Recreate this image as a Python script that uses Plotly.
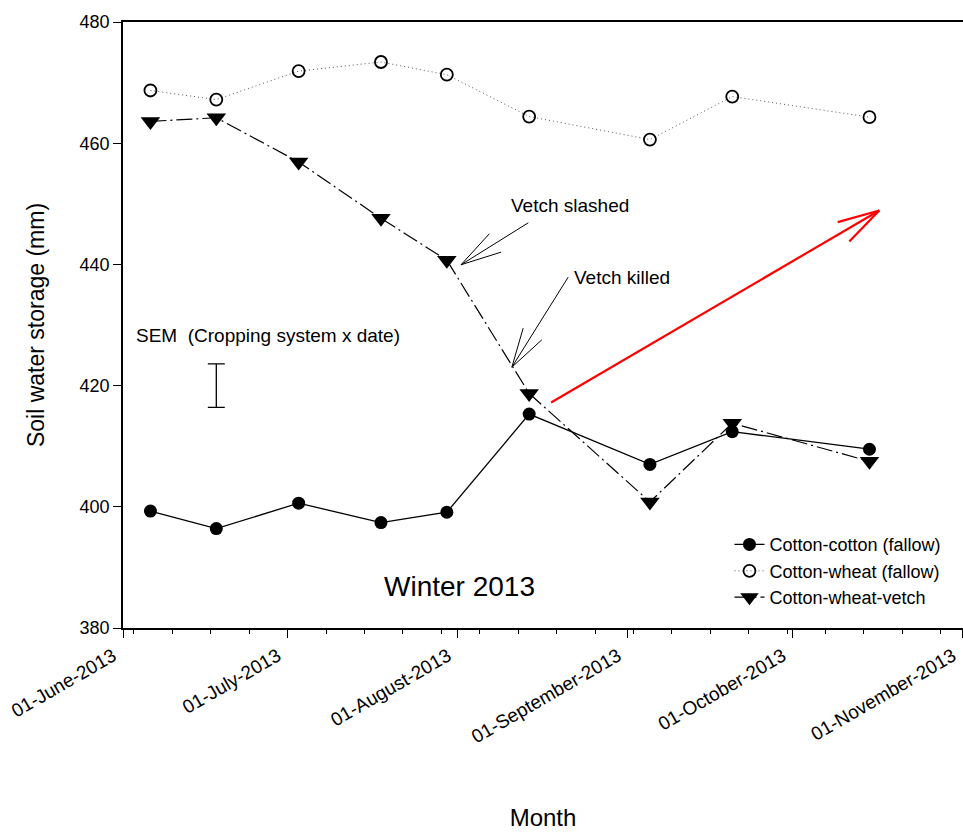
import plotly.graph_objects as go

# ---- data ----
dates = ["2013-06-06", "2013-06-18", "2013-07-03", "2013-07-18", "2013-07-30",
         "2013-08-14", "2013-09-05", "2013-09-20", "2013-10-15"]
cotton_cotton = [399.3, 396.4, 400.6, 397.4, 399.1, 415.3, 407.0, 412.4, 409.5]
cotton_wheat = [468.7, 467.2, 471.9, 473.4, 471.3, 464.4, 460.6, 467.7, 464.3]
cotton_wheat_vetch = [463.6, 464.2, 456.9, 447.6, 440.7, 418.7, 400.8, 413.8, 407.5]

series_names = ["Cotton-cotton (fallow)", "Cotton-wheat (fallow)", "Cotton-wheat-vetch"]

sem_date = ["2013-06-18"]
sem_center = [420.0]
sem_value = [3.6]

month_ticks = ["2013-06-01", "2013-07-01", "2013-08-01", "2013-09-01", "2013-10-01", "2013-11-01"]
month_labels = ["01-June-2013", "01-July-2013", "01-August-2013", "01-September-2013",
                "01-October-2013", "01-November-2013"]

red_tail = ("2013-08-18", 417.2)
red_tip = ("2013-10-16 19:00", 448.9)

FONT = "Liberation Sans, Arial, sans-serif"

fig = go.Figure()

fig.add_trace(go.Scatter(
    x=dates, y=cotton_cotton, name=series_names[0], mode="lines+markers",
    line=dict(color="black", width=1.3),
    marker=dict(symbol="circle", size=13, color="black"),
))
fig.add_trace(go.Scatter(
    x=dates, y=cotton_wheat, name=series_names[1], mode="lines+markers",
    line=dict(color="#555555", width=1, dash="1px,3px"),
    marker=dict(symbol="circle-open", size=12, color="black", line=dict(width=1.8, color="black")),
))
fig.add_trace(go.Scatter(
    x=dates, y=cotton_wheat_vetch, name=series_names[2], mode="lines+markers",
    line=dict(color="black", width=1.2, dash="16px,4px,2px,4px"),
    marker=dict(symbol="triangle-down", size=17, color="black"),
))
# SEM bar
fig.add_trace(go.Scatter(
    x=sem_date, y=sem_center, mode="markers", showlegend=False, hoverinfo="skip",
    marker=dict(size=1, color="rgba(0,0,0,0)"),
    error_y=dict(type="data", array=sem_value, visible=True, color="black", thickness=1.3, width=8.5),
))

shapes = []


def barbed(xa, ya, pts, color="black", width=1.0):
    """pts: list of (x0,y0,x1,y1) screen-pixel offsets (y down) relative to anchor."""
    for x0, y0, x1, y1 in pts:
        shapes.append(dict(type="line", xref="x", yref="y", xsizemode="pixel", ysizemode="pixel",
                           xanchor=xa, yanchor=ya, x0=x0, x1=x1, y0=-y0, y1=-y1,
                           line=dict(color=color, width=width)))


# Vetch slashed arrow (anchored at 5th vetch point)
tip = (14.2, 4.6)
barbed(dates[4], cotton_wheat_vetch[4], [
    (tip[0], tip[1], 81.5, -37.4),
    (tip[0], tip[1], 42.5, -26.4),
    (tip[0], tip[1], 54.2, -8.0),
])
# Vetch killed arrow (anchored at 6th vetch point)
tip = (-17.3, -26.3)
barbed(dates[5], cotton_wheat_vetch[5], [
    (tip[0], tip[1], 39.0, -116.3),
    (tip[0], tip[1], -6.0, -65.3),
    (tip[0], tip[1], 12.7, -53.7),
])
# Red arrow
shapes.append(dict(type="line", xref="x", yref="y", x0=red_tail[0], y0=red_tail[1],
                   x1=red_tip[0], y1=red_tip[1], line=dict(color="#ff0000", width=2.2)))
barbed(red_tip[0], red_tip[1], [
    (0, 0, -41.6, 11.6),
    (0, 0, -30.0, 31.0),
], color="#ff0000", width=2.2)

ann_font = dict(size=19, color="black", family=FONT)
annotations = [
    dict(text="Vetch slashed", xref="paper", yref="paper", x=0.532, y=0.697,
         xanchor="center", yanchor="middle", showarrow=False, font=ann_font),
    dict(text="Vetch killed", xref="paper", yref="paper", x=0.5935, y=0.579,
         xanchor="center", yanchor="middle", showarrow=False, font=ann_font),
    dict(text="SEM  (Cropping system x date)", xref="paper", yref="paper", x=0.013, y=0.482,
         xanchor="left", yanchor="middle", showarrow=False, font=ann_font),
    dict(text="Winter 2013", xref="paper", yref="paper", x=0.401, y=0.069,
         xanchor="center", yanchor="middle", showarrow=False,
         font=dict(size=28, color="black", family=FONT)),
]

fig.update_layout(
    width=963, height=832,
    margin=dict(l=123, r=0, t=22, b=204),
    paper_bgcolor="white", plot_bgcolor="white",
    font=dict(family=FONT, color="black"),
    shapes=shapes, annotations=annotations,
    legend=dict(x=0.722, y=0.168, xanchor="left", yanchor="top",
                bgcolor="rgba(0,0,0,0)", font=dict(size=18, family=FONT),
                tracegroupgap=0),
)

fig.update_xaxes(
    type="date", range=["2013-06-01", "2013-11-01 01:00"],
    tickvals=month_ticks, ticktext=month_labels, tickangle=-30,
    tickfont=dict(size=19, family=FONT), ticklabeloverflow="allow",
    ticklabelshift=-10,
    ticks="outside", ticklen=8, tickwidth=1.3, tickcolor="black",
    minor=dict(ticks="outside", ticklen=4, tickwidth=1.3, tickcolor="black",
               tick0="2013-06-03", dtick=7 * 86400000, showgrid=False),
    showline=True, linecolor="black", linewidth=1.5, mirror=True,
    showgrid=False, zeroline=False,
    title=dict(text="Month", font=dict(size=24, family=FONT), standoff=63),
)
fig.update_yaxes(
    range=[380, 480], dtick=20, tick0=380,
    tickfont=dict(size=18, family=FONT),
    ticks="outside", ticklen=8, tickwidth=1.3, tickcolor="black",
    showline=True, linecolor="black", linewidth=1.5,
    showgrid=False, zeroline=False,
    title=dict(text="Soil water storage (mm)", font=dict(size=23, family=FONT), standoff=29),
)

fig.write_html(
    "out.html",
    config={"displayModeBar": False, "responsive": False},
    post_script=("document.documentElement.style.overflow='hidden';"
                 "document.body.style.margin='0';document.body.style.overflow='hidden';"),
)
